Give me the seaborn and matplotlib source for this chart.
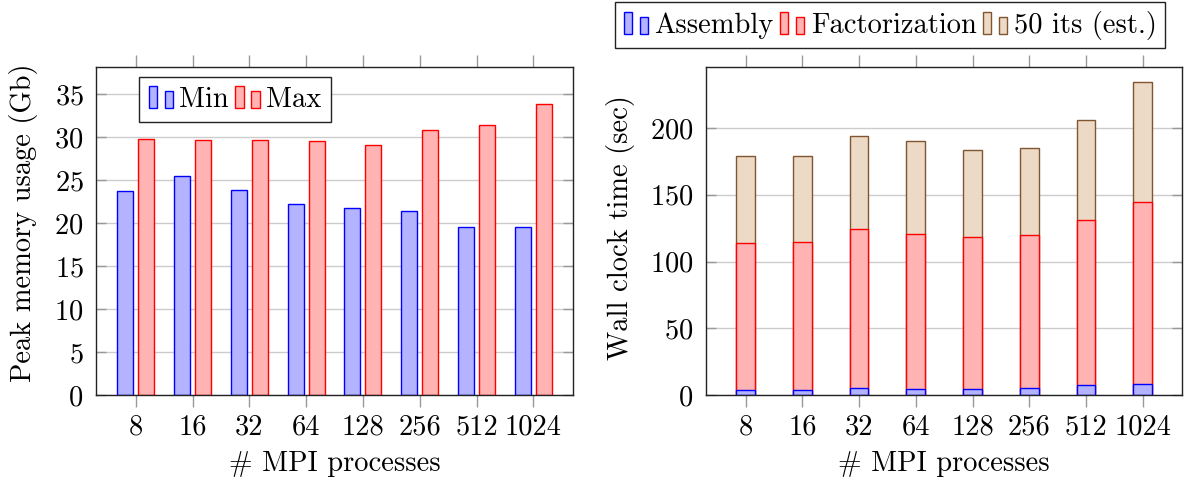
import numpy as np
import pandas as pd
import matplotlib
matplotlib.use('Agg')
import matplotlib.pyplot as plt
import seaborn as sns
from matplotlib.patches import Rectangle
from matplotlib.legend_handler import HandlerBase

# --- data ---
procs = ['8', '16', '32', '64', '128', '256', '512', '1024']
mem_min = [23.8, 25.5, 23.9, 22.2, 21.8, 21.4, 19.6, 19.6]
mem_max = [29.8, 29.7, 29.7, 29.6, 29.1, 30.9, 31.5, 33.9]
t_assembly = [3.8, 3.8, 5.3, 4.3, 4.3, 5.5, 7.3, 8.0]
t_factor = [110.1, 110.6, 118.8, 116.1, 113.8, 114.4, 123.8, 136.7]
t_iters = [65.0, 65.0, 69.8, 70.0, 65.3, 64.8, 75.1, 90.0]

BLUE_FILL, BLUE = '#b3b3ff', '#0000ff'
RED_FILL, RED = '#ffb3b3', '#ff0000'
BROWN_FILL, BROWN = '#ecd9c6', '#80552f'
FS = 20.5


class TwoBarHandler(HandlerBase):
    # pgfplots style ybar legend image: two little bars
    def create_artists(self, legend, orig, xdescent, ydescent, width, height, fontsize, trans):
        w = width * 0.34
        kw = dict(facecolor=orig.get_facecolor(), edgecolor=orig.get_edgecolor(), linewidth=1.0)
        r1 = Rectangle((-xdescent, -ydescent), w, height, **kw)
        r2 = Rectangle((-xdescent + width - w, -ydescent), w, height * 0.77, **kw)
        r1.set_transform(trans)
        r2.set_transform(trans)
        return [r1, r2]


def style_axes(ax, ymax, yticks):
    ax.set_xlim(-0.7, 7.7)
    ax.set_ylim(0, ymax)
    ax.set_yticks(yticks)
    ax.set_axisbelow(True)
    ax.grid(axis='y', color='#cccccc', linewidth=1.0)
    ax.grid(axis='x', visible=False)
    for s in ax.spines.values():
        s.set_color('#222222')
        s.set_linewidth(1.0)
    ax.tick_params(axis='x', direction='out', length=8.5, width=1, color='#999999',
                   top=True, labeltop=False, pad=5, labelsize=FS)
    ax.tick_params(axis='y', direction='in', length=7, width=1, color='#999999',
                   right=True, labelright=False, pad=9, labelsize=FS)
    ax.set_xlabel('# MPI processes', fontsize=FS)
    ax.xaxis.set_label_coords(0.5, -0.17)


def main():
    plt.rcParams['font.family'] = 'cmr10'
    plt.rcParams['axes.formatter.use_mathtext'] = True

    fig = plt.figure(figsize=(11.84, 4.86), dpi=100)
    ax1 = fig.add_axes([0.0811, 0.1872, 0.4029, 0.6749])
    ax2 = fig.add_axes([0.5963, 0.1872, 0.4023, 0.6749])

    # --- left: peak memory ---
    mem_df = pd.DataFrame({
        'procs': procs * 2,
        'kind': ['Min'] * len(procs) + ['Max'] * len(procs),
        'value': mem_min + mem_max,
    })
    sns.barplot(data=mem_df, x='procs', y='value', hue='kind', order=procs,
                hue_order=['Min', 'Max'], palette={'Min': BLUE_FILL, 'Max': RED_FILL},
                width=0.74, gap=0.243, saturation=1, errorbar=None, legend=False,
                linewidth=1.0, ax=ax1)
    for cont, edge in zip(ax1.containers, [BLUE, RED]):
        for p in cont:
            p.set_edgecolor(edge)
    style_axes(ax1, 38.2, range(0, 36, 5))
    ax1.set_ylabel('Peak memory usage (Gb)', fontsize=FS)
    ax1.yaxis.set_label_coords(-0.121, 0.525)

    h_min = Rectangle((0, 0), 1, 1, facecolor=BLUE_FILL, edgecolor=BLUE)
    h_max = Rectangle((0, 0), 1, 1, facecolor=RED_FILL, edgecolor=RED)
    ax1.legend([h_min, h_max], ['Min', 'Max'], handler_map={Rectangle: TwoBarHandler()},
               ncol=2, loc='upper left', bbox_to_anchor=(0.091, 0.97), borderaxespad=0,
               fontsize=FS, frameon=True, fancybox=False, framealpha=1, edgecolor='#222222',
               handlelength=0.85, handleheight=0.8, handletextpad=0.23, columnspacing=0.23,
               borderpad=0.32)

    # --- right: wall clock time, stacked ---
    fact_top = np.add(t_assembly, t_factor)
    total_top = fact_top + np.array(t_iters)
    for vals, fill, edge in [(total_top, BROWN_FILL, BROWN),
                             (fact_top, RED_FILL, RED),
                             (t_assembly, BLUE_FILL, BLUE)]:
        sns.barplot(x=procs, y=vals, order=procs, color=fill, edgecolor=edge,
                    width=0.33, saturation=1, errorbar=None, linewidth=1.0, ax=ax2)
    style_axes(ax2, 245.7, range(0, 201, 50))
    ax2.set_ylabel('Wall clock time (sec)', fontsize=FS)
    ax2.yaxis.set_label_coords(-0.149, 0.51)

    h_asm = Rectangle((0, 0), 1, 1, facecolor=BLUE_FILL, edgecolor=BLUE)
    h_fac = Rectangle((0, 0), 1, 1, facecolor=RED_FILL, edgecolor=RED)
    h_its = Rectangle((0, 0), 1, 1, facecolor=BROWN_FILL, edgecolor=BROWN)
    fig.legend([h_asm, h_fac, h_its], ['Assembly', 'Factorization', '50 its (est.)'],
               handler_map={Rectangle: TwoBarHandler()}, ncol=3, loc='upper left',
               bbox_to_anchor=(615 / 1184, 1 - 2 / 486), borderaxespad=0,
               fontsize=FS, frameon=True, fancybox=False, framealpha=1, edgecolor='#222222',
               handlelength=0.85, handleheight=0.8, handletextpad=0.23, columnspacing=0.23,
               borderpad=0.3)

    fig.savefig('out.png', dpi=100)


if __name__ == "__main__":
    main()
